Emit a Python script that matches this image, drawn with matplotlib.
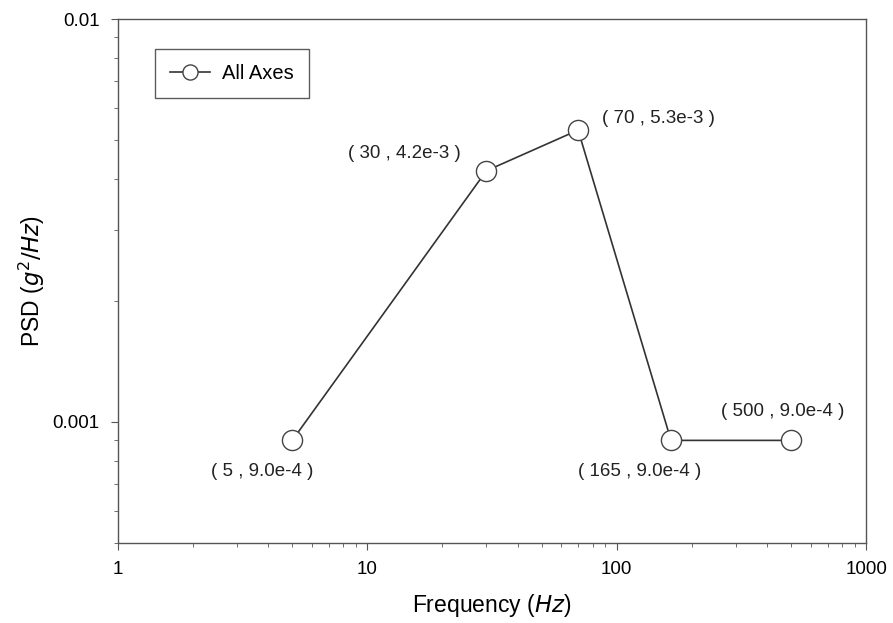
import matplotlib
matplotlib.use("Agg")
import matplotlib.pyplot as plt

plt.rcParams['font.family'] = ['Liberation Sans', 'DejaVu Sans']

# PSD profile points
freq = [5, 30, 70, 165, 500]
psd = [9.0e-4, 4.2e-3, 5.3e-3, 9.0e-4, 9.0e-4]
labels = ["( 5 , 9.0e-4 )", "( 30 , 4.2e-3 )", "( 70 , 5.3e-3 )",
          "( 165 , 9.0e-4 )", "( 500 , 9.0e-4 )"]
# label offsets in pixels, relative to each point
offsets = [(-30, -31), (-82, 17), (80, 12), (-31, -31), (-8, 29)]

fig = plt.figure(figsize=(8.93, 6.23), dpi=100)
ax = fig.add_axes([0.132, 0.128, 0.838, 0.8415])

ax.plot(freq, psd, color="#333333", lw=1.2, marker="o", ms=14.5,
        mfc="white", mec="#444444", mew=1.0, label="All Axes")

for x, y, txt, off in zip(freq, psd, labels, offsets):
    ax.annotate(txt, (x, y), xytext=off, textcoords="offset pixels",
                ha="center", va="center", fontsize=13.5, color="#222222")

ax.set_xscale("log")
ax.set_yscale("log")
ax.set_xlim(1, 1000)
ax.set_ylim(5e-4, 1e-2)
ax.set_xticks([1, 10, 100, 1000])
ax.set_xticklabels(["1", "10", "100", "1000"])
ax.set_yticks([1e-3, 1e-2])
ax.set_yticklabels(["0.001", "0.01"])

ax.set_xlabel("Frequency ($\\it{Hz}$)", fontsize=16.5, labelpad=10)
ax.set_ylabel("PSD ($\\it{g^2/Hz}$)", fontsize=16.5, labelpad=4)

for s in ax.spines.values():
    s.set_color("#555555")
    s.set_linewidth(1.0)
ax.tick_params(which="major", length=5, color="#555555", labelsize=13.5, pad=8)
ax.tick_params(which="minor", length=3, color="#555555")

leg = ax.legend(loc="upper left", bbox_to_anchor=(0.036, 0.962), fontsize=14.5,
                frameon=True, fancybox=False, edgecolor="#333333",
                borderpad=0.75, handlelength=2.0, handletextpad=0.6,
                markerscale=0.75)
leg.get_frame().set_linewidth(1.0)

fig.savefig("out.png", dpi=100)
